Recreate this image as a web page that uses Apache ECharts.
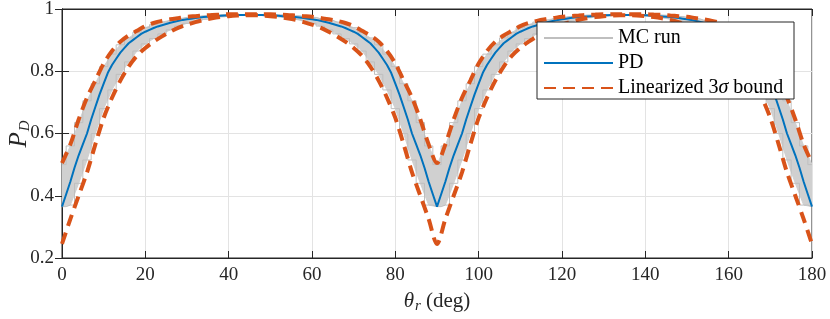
<!DOCTYPE html>
<html><head><meta charset="utf-8">
<script src="https://cdn.jsdelivr.net/npm/echarts@6/dist/echarts.min.js"></script>
<style>html,body{margin:0;padding:0;background:#fff}#c{width:830px;height:319px}</style>
</head><body><div id="c"></div>
<script>
// x ticks / y ticks
const xTicks = [0, 20, 40, 60, 80, 100, 120, 140, 160, 180];
const yTicks = [0.2, 0.4, 0.6, 0.8, 1];
// PD sampled every 1 deg, 0..180
const pdStepDeg = 1;
const pd = [
 .365,.405,.445,.49,.53,.565,.60,.645,.685,.725,.76,.795,.82,.84,.86,.875,.89,.90,.91,.92,.927,.933,.939,.944,.948,.952,.956,.959,.962,.965,.967,.969,.971,.973,.974,.975,.976,.977,.978,.979,.98,.98,.981,.981,.981,.981,
 .981,.981,.981,.98,.98,.979,.978,.977,.976,.975,.974,.973,.971,.969,.967,.965,.962,.959,.956,.952,.948,.944,.939,.933,.927,.92,.91,.90,.89,.875,.86,.84,.82,.795,.76,.725,.685,.645,.60,.565,.53,.49,.445,.405,.365,
 .405,.445,.49,.53,.565,.60,.645,.685,.725,.76,.795,.82,.84,.86,.875,.89,.90,.91,.92,.927,.933,.939,.944,.948,.952,.956,.959,.962,.965,.967,.969,.971,.973,.974,.975,.976,.977,.978,.979,.98,.98,.981,.981,.981,.981,
 .981,.981,.981,.98,.98,.979,.978,.977,.976,.975,.974,.973,.971,.969,.967,.965,.962,.959,.956,.952,.948,.944,.939,.933,.927,.92,.91,.90,.89,.875,.86,.84,.82,.795,.76,.725,.685,.645,.60,.565,.53,.49,.445,.405,.365
];
// bounds and MC envelope sampled every 2 deg, 0..180
const bStepDeg = 2;
const upperBound = [
 .505,.565,.645,.715,.77,.825,.865,.895,.915,.93,.945,.955,.962,.967,.971,.975,.977,.979,.981,.982,.983,.983,.983,
 .983,.983,.983,.982,.981,.979,.977,.975,.971,.967,.962,.955,.945,.93,.915,.895,.865,.825,.77,.715,.645,.565,.505,
 .565,.645,.715,.77,.825,.865,.895,.915,.93,.945,.955,.962,.967,.971,.975,.977,.979,.981,.982,.983,.983,.983,
 .983,.983,.983,.982,.981,.979,.977,.975,.971,.967,.962,.955,.945,.93,.915,.895,.865,.825,.77,.715,.645,.565,.505
];
const lowerBound = [
 .245,.325,.40,.475,.565,.65,.715,.77,.815,.85,.875,.895,.912,.927,.94,.95,.958,.965,.97,.974,.977,.979,.98,
 .98,.979,.977,.974,.97,.965,.958,.95,.94,.927,.912,.895,.875,.85,.815,.77,.715,.65,.565,.475,.40,.325,.245,
 .325,.40,.475,.565,.65,.715,.77,.815,.85,.875,.895,.912,.927,.94,.95,.958,.965,.97,.974,.977,.979,.98,
 .98,.979,.977,.974,.97,.965,.958,.95,.94,.927,.912,.895,.875,.85,.815,.77,.715,.65,.565,.475,.40,.325,.245
];
const mcHigh = [
 .50,.56,.635,.705,.76,.815,.855,.885,.907,.925,.94,.95,.958,.964,.969,.973,.976,.978,.98,.981,.982,.982,.982,
 .982,.982,.982,.981,.98,.978,.976,.973,.969,.964,.958,.95,.94,.925,.907,.885,.855,.815,.76,.705,.635,.56,.50,
 .56,.635,.705,.76,.815,.855,.885,.907,.925,.94,.95,.958,.964,.969,.973,.976,.978,.98,.981,.982,.982,.982,
 .982,.982,.982,.981,.98,.978,.976,.973,.969,.964,.958,.95,.94,.925,.907,.885,.855,.815,.76,.705,.635,.56,.50
];
const mcLow = [
 .365,.37,.44,.515,.60,.68,.74,.79,.83,.865,.888,.905,.92,.933,.945,.954,.961,.967,.972,.975,.978,.979,.98,
 .98,.979,.978,.975,.972,.967,.961,.954,.945,.933,.92,.905,.888,.865,.83,.79,.74,.68,.60,.515,.44,.37,.365,
 .37,.44,.515,.60,.68,.74,.79,.83,.865,.888,.905,.92,.933,.945,.954,.961,.967,.972,.975,.978,.979,.98,
 .98,.979,.978,.975,.972,.967,.961,.954,.945,.933,.92,.905,.888,.865,.83,.79,.74,.68,.60,.515,.44,.37,.365
];

const FF = '"Liberation Serif", "DejaVu Serif", serif';
const TXT = '#262626';
const pairs = (arr, step) => arr.map((v, i) => [i * step, v]);

const chart = echarts.init(document.getElementById('c'), null, {renderer: 'canvas'});
const tickFmt = v => (Math.abs(v - 1) < 1e-9 ? '1' : (Number.isInteger(v) ? String(v) : v.toFixed(1)));
const xBase = {type: 'value', min: 0, max: 180, interval: 20};
const yBase = {type: 'value', min: 0.2, max: 1, interval: 0.2};
const bandData = mcLow.map((v, i) => [i * bStepDeg, v, mcHigh[i]]);
chart.setOption({
  animation: false,
  backgroundColor: '#fff',
  grid: {left: 62, right: 18, top: 9, bottom: 61, show: true, borderColor: TXT, borderWidth: 1,
         backgroundColor: 'transparent', containLabel: false, outerBoundsMode: 'none'},
  xAxis: [
    Object.assign({}, xBase, {
      position: 'bottom',
      axisLine: {show: true, lineStyle: {color: TXT, width: 1}},
      axisTick: {show: true, inside: true, length: 7, lineStyle: {color: TXT}},
      axisLabel: {color: TXT, fontFamily: FF, fontSize: 19, margin: 8, formatter: tickFmt},
      splitLine: {show: true, lineStyle: {color: '#e3e3e3', width: 1}},
      name: '{it|θ}{sub|r} (deg)', nameLocation: 'middle', nameGap: 31,
      nameTextStyle: {color: TXT, fontFamily: FF, fontSize: 21,
        rich: {it: {fontStyle: 'italic', fontFamily: FF, fontSize: 21, color: TXT},
               sub: {fontStyle: 'italic', fontFamily: FF, fontSize: 15, color: TXT, padding: [10, 0, 0, 1]}}}
    }),
    Object.assign({}, xBase, {
      position: 'top',
      axisLine: {show: true, lineStyle: {color: TXT, width: 1}},
      axisTick: {show: true, inside: true, length: 7, lineStyle: {color: TXT}},
      axisLabel: {show: false}, splitLine: {show: false}
    })
  ],
  yAxis: [
    Object.assign({}, yBase, {
      position: 'left',
      axisLine: {show: true, lineStyle: {color: TXT, width: 1}},
      axisTick: {show: true, inside: true, length: 7, lineStyle: {color: TXT}},
      axisLabel: {color: TXT, fontFamily: FF, fontSize: 19, margin: 8, formatter: tickFmt},
      splitLine: {show: true, lineStyle: {color: '#e3e3e3', width: 1}}
    }),
    Object.assign({}, yBase, {
      position: 'right',
      axisLine: {show: true, lineStyle: {color: TXT, width: 1}},
      axisTick: {show: true, inside: true, length: 7, lineStyle: {color: TXT}},
      axisLabel: {show: false}, splitLine: {show: false}
    })
  ],
  legend: {
    data: ['MC run', 'PD', 'Linearized 3σ bound'],
    orient: 'vertical', left: 537, top: 22, padding: [6, 6, 7, 6],
    itemWidth: 69, itemHeight: 14, itemGap: 5, z: 10,
    itemStyle: {opacity: 0},
    textStyle: {color: '#000', fontFamily: FF, fontSize: 20, lineHeight: 18,
      rich: {i: {fontStyle: 'italic', fontFamily: FF, fontSize: 20, color: '#000'}}},
    formatter: n => n === 'Linearized 3σ bound' ? 'Linearized 3{i|σ} bound' : n
  },
  graphic: [
    {type: 'rect', z: 9, shape: {x: 537, y: 22, width: 257, height: 77},
     style: {fill: '#fff', stroke: TXT, lineWidth: 1}},
    {type: 'text', x: 19, y: 134, rotation: Math.PI / 2, z: 10,
     style: {text: '{it|P}{sub|D}', align: 'center', verticalAlign: 'middle', fill: TXT,
       font: '25px ' + FF,
       rich: {it: {fontStyle: 'italic', fontFamily: FF, fontSize: 25, fill: TXT},
              sub: {fontStyle: 'italic', fontFamily: FF, fontSize: 15, fill: TXT, padding: [12, 0, 0, 1]}}}}
  ],
  series: [
    {name: 'band', type: 'custom', data: bandData, silent: true, z: 2, clip: true,
     renderItem: (params, api) => {
       if (params.dataIndex !== 0) return null;
       const top = bandData.map(d => api.coord([d[0], d[2]]));
       const bot = bandData.map(d => api.coord([d[0], d[1]])).reverse();
       return {type: 'polygon', shape: {points: top.concat(bot)},
               style: {fill: '#d0d0d0', stroke: '#d0d0d0', lineWidth: 1}};
     }},
    {name: 'MC run', type: 'line', data: pairs(mcHigh, bStepDeg), step: 'middle', symbol: 'none',
     color: '#bfbfbf', lineStyle: {color: '#bfbfbf', width: 1}, z: 3},
    {name: 'MC run', type: 'line', data: pairs(mcLow, bStepDeg), step: 'middle', symbol: 'none',
     color: '#bfbfbf', lineStyle: {color: '#bfbfbf', width: 1}, z: 3},
    {name: 'PD', type: 'line', data: pairs(pd, pdStepDeg), symbol: 'none',
     color: '#0072BD', lineStyle: {color: '#0072BD', width: 2}, z: 4},
    {name: 'Linearized 3σ bound', type: 'line', data: pairs(upperBound, bStepDeg), symbol: 'none', smooth: 0.3,
     color: '#D95319', lineStyle: {color: '#D95319', width: 4, type: [12, 7]}, z: 5},
    {name: 'Linearized 3σ bound', type: 'line', data: pairs(lowerBound, bStepDeg), symbol: 'none', smooth: 0.3,
     color: '#D95319', lineStyle: {color: '#D95319', width: 4, type: [12, 7]}, z: 5}
  ]
});
</script></body></html>
